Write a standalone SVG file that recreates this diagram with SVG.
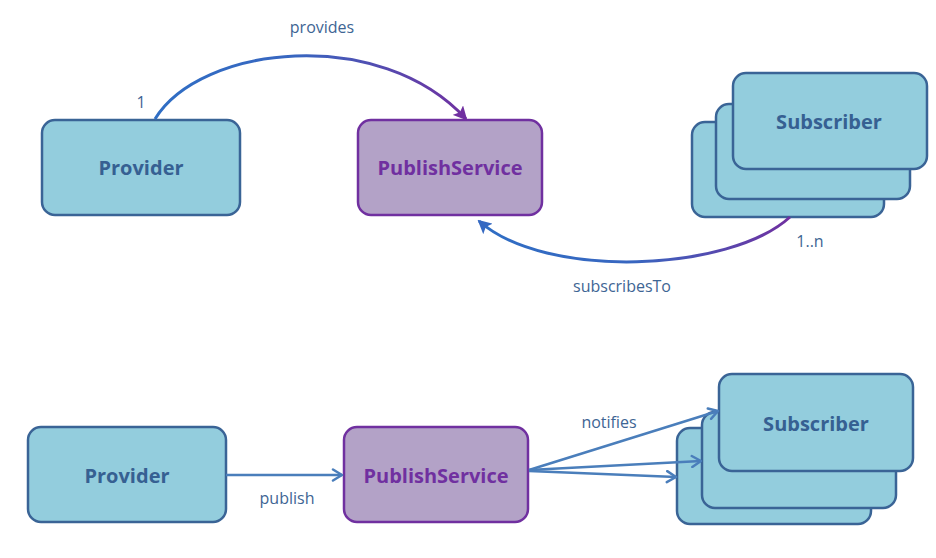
<svg xmlns="http://www.w3.org/2000/svg" width="936" height="558" viewBox="0 0 936 558">
<style>
.blue{fill:#93cddd;stroke:#3a6496;stroke-width:2.5}
.purp{fill:#b3a2c7;stroke:#7030a0;stroke-width:2.5}
.nt{font-family:"Open Sans","Noto Sans","Liberation Sans",sans-serif;font-weight:bold;font-size:20px;fill:#366092;text-anchor:middle;dominant-baseline:central}
.pt{fill:#7030a0}
.lb{font-family:"Open Sans","Noto Sans","Liberation Sans",sans-serif;font-size:16px;fill:#3e6594;text-anchor:middle;dominant-baseline:central}
.ln{fill:none;stroke:#4a7ebb;stroke-width:2.5}
</style>
<defs>
<linearGradient id="gProv" gradientUnits="userSpaceOnUse" x1="155" y1="0" x2="467" y2="0">
<stop offset="0" stop-color="#2f6ec4"/><stop offset="0.45" stop-color="#3866c0"/><stop offset="1" stop-color="#7030a0"/>
</linearGradient>
<linearGradient id="gSub" gradientUnits="userSpaceOnUse" x1="478" y1="0" x2="790" y2="0">
<stop offset="0" stop-color="#2f6ec4"/><stop offset="0.5" stop-color="#3866c0"/><stop offset="1" stop-color="#7030a0"/>
</linearGradient>
<marker id="mPurp" markerWidth="14" markerHeight="14" refX="12" refY="7" orient="auto" markerUnits="userSpaceOnUse" viewBox="0 0 14 14">
<path d="M0,0 L14,7 L0,14 L3,7 Z" fill="#7030a0"/>
</marker>
<marker id="mBlue" markerWidth="14" markerHeight="14" refX="12" refY="7" orient="auto" markerUnits="userSpaceOnUse" viewBox="0 0 14 14">
<path d="M0,0 L14,7 L0,14 L3,7 Z" fill="#3569c2"/>
</marker>
<marker id="mOpen" markerWidth="14" markerHeight="14" refX="12" refY="7" orient="auto" markerUnits="userSpaceOnUse" viewBox="0 0 14 14">
<path d="M3,1.5 L12,7 L3,12.5" fill="none" stroke="#4a7ebb" stroke-width="2.5" stroke-linecap="round" stroke-linejoin="round"/>
</marker>
</defs>

<g id="provider-top">
<rect class="blue" x="42" y="120" width="198" height="95" rx="13"/>
<text class="nt" x="141" y="167">Provider</text>
</g>
<g id="publishservice-top">
<rect class="purp" x="358" y="120" width="184" height="95" rx="13"/>
<text class="nt pt" x="450" y="167">PublishService</text>
</g>
<g id="subscriber-top">
<rect class="blue" x="692" y="122" width="192" height="95" rx="13"/>
<rect class="blue" x="716" y="104" width="194" height="95" rx="13"/>
<rect class="blue" x="733" y="73" width="194" height="96" rx="13"/>
<text class="nt" x="829" y="121">Subscriber</text>
</g>

<g id="provider-bottom">
<rect class="blue" x="28" y="427" width="198" height="95" rx="13"/>
<text class="nt" x="127" y="475">Provider</text>
</g>
<g id="publishservice-bottom">
<rect class="purp" x="344" y="427" width="184" height="95" rx="13"/>
<text class="nt pt" x="436" y="475">PublishService</text>
</g>
<g id="subscriber-bottom">
<rect class="blue" x="677" y="428" width="194" height="96" rx="13"/>
<rect class="blue" x="702" y="412" width="194" height="96" rx="13"/>
<rect class="blue" x="719" y="374" width="194" height="97" rx="13"/>
<text class="nt" x="816" y="423">Subscriber</text>
</g>

<g id="connectors">
<path d="M155,119 C200,45 380,25 466,119" fill="none" stroke="url(#gProv)" stroke-width="3" marker-end="url(#mPurp)"/>
<path d="M790,217 C730,272 545,280 479,221" fill="none" stroke="url(#gSub)" stroke-width="3" marker-end="url(#mBlue)"/>
<line class="ln" x1="226" y1="475" x2="342" y2="475" marker-end="url(#mOpen)"/>
<line class="ln" x1="529" y1="470" x2="718" y2="411" marker-end="url(#mOpen)"/>
<line class="ln" x1="529" y1="470" x2="701" y2="461" marker-end="url(#mOpen)"/>
<line class="ln" x1="529" y1="471" x2="676" y2="477" marker-end="url(#mOpen)"/>
<text class="lb" x="322" y="27">provides</text>
<text class="lb" x="141" y="102">1</text>
<text class="lb" x="622" y="286">subscribesTo</text>
<text class="lb" x="810" y="241">1..n</text>
<text class="lb" x="287" y="498">publish</text>
<text class="lb" x="609" y="422">notifies</text>
</g>
</svg>
